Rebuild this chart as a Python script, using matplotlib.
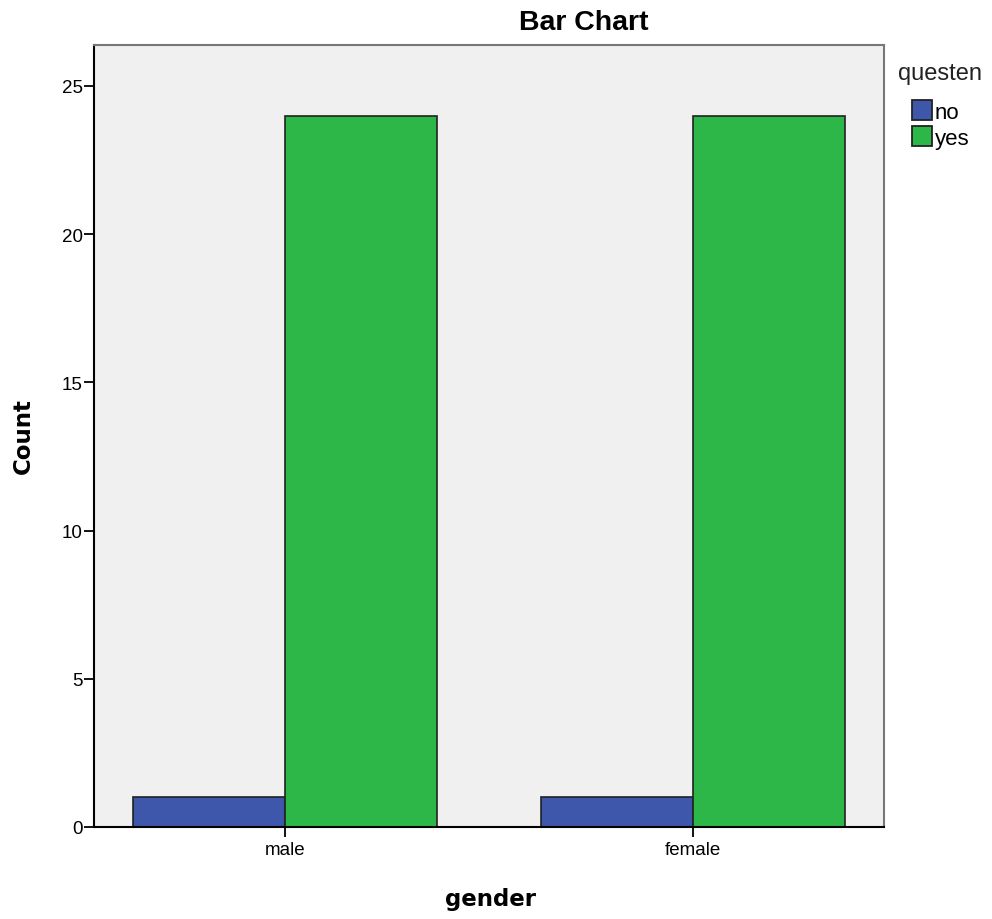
import matplotlib
matplotlib.use("Agg")
import matplotlib.pyplot as plt
import numpy as np
from matplotlib.patches import Rectangle

categories = ["male", "female"]
series_names = ["no", "yes"]
no_counts = [1, 1]
yes_counts = [24, 24]
yticks = [0, 5, 10, 15, 20, 25]
colors = ["#3E57AB", "#2EB749"]

plt.rcParams['font.family'] = ['Liberation Sans', 'DejaVu Sans']
fig = plt.figure(figsize=(9.92, 9.2), dpi=100)
ax = fig.add_axes([94/992, 1-828/920, (884-94)/992, (828-46)/920])
ax.set_facecolor("#F0F0F0")

x = np.arange(len(categories))
w = 0.372
ax.bar(x - w/2, no_counts, w, color=colors[0], edgecolor="#222222", linewidth=1.2, label=series_names[0])
ax.bar(x + w/2, yes_counts, w, color=colors[1], edgecolor="#222222", linewidth=1.2, label=series_names[1])

ax.set_xlim(-0.467, 1.467)
ax.set_ylim(0, 26.38)
ax.set_xticks(x)
ax.set_xticklabels(categories, fontsize=13.5)
ax.set_yticks(yticks)
ax.set_yticklabels([str(v) for v in yticks], fontsize=13.5)
ax.tick_params(axis='y', length=7, width=1.3, pad=1)
ax.tick_params(axis='x', length=7, width=1.3, pad=3)
for s in ['left', 'bottom']:
    ax.spines[s].set_color('black')
    ax.spines[s].set_linewidth(1.5)
for s in ['top', 'right']:
    ax.spines[s].set_color('#777777')
    ax.spines[s].set_linewidth(1.5)

fig.text(584/992, 1-23/920, "Bar Chart", ha='center', va='center', fontsize=20.5, fontweight='bold')
fig.text(491/992, 1-900/920, "gender", ha='center', va='center', fontsize=16.5, fontweight='bold', family='DejaVu Sans')
fig.text(23/992, 1-436/920, "Count", ha='center', va='center', fontsize=16.5, fontweight='bold', rotation=90, family='DejaVu Sans')

fig.text(898/992, 1-74/920, "questen", ha='left', va='center', fontsize=17, color='#222222')
for i, name in enumerate(series_names):
    yc = 111 + i*25.5
    fig.patches.append(Rectangle((912/992, 1-(yc+10)/920), 20/992, 20/920, transform=fig.transFigure,
                                 facecolor=colors[i], edgecolor='#222222', linewidth=1.3))
    fig.text(935/992, 1-(yc+2.5)/920, name, ha='left', va='center', fontsize=16)

fig.savefig("out.png", dpi=100)
